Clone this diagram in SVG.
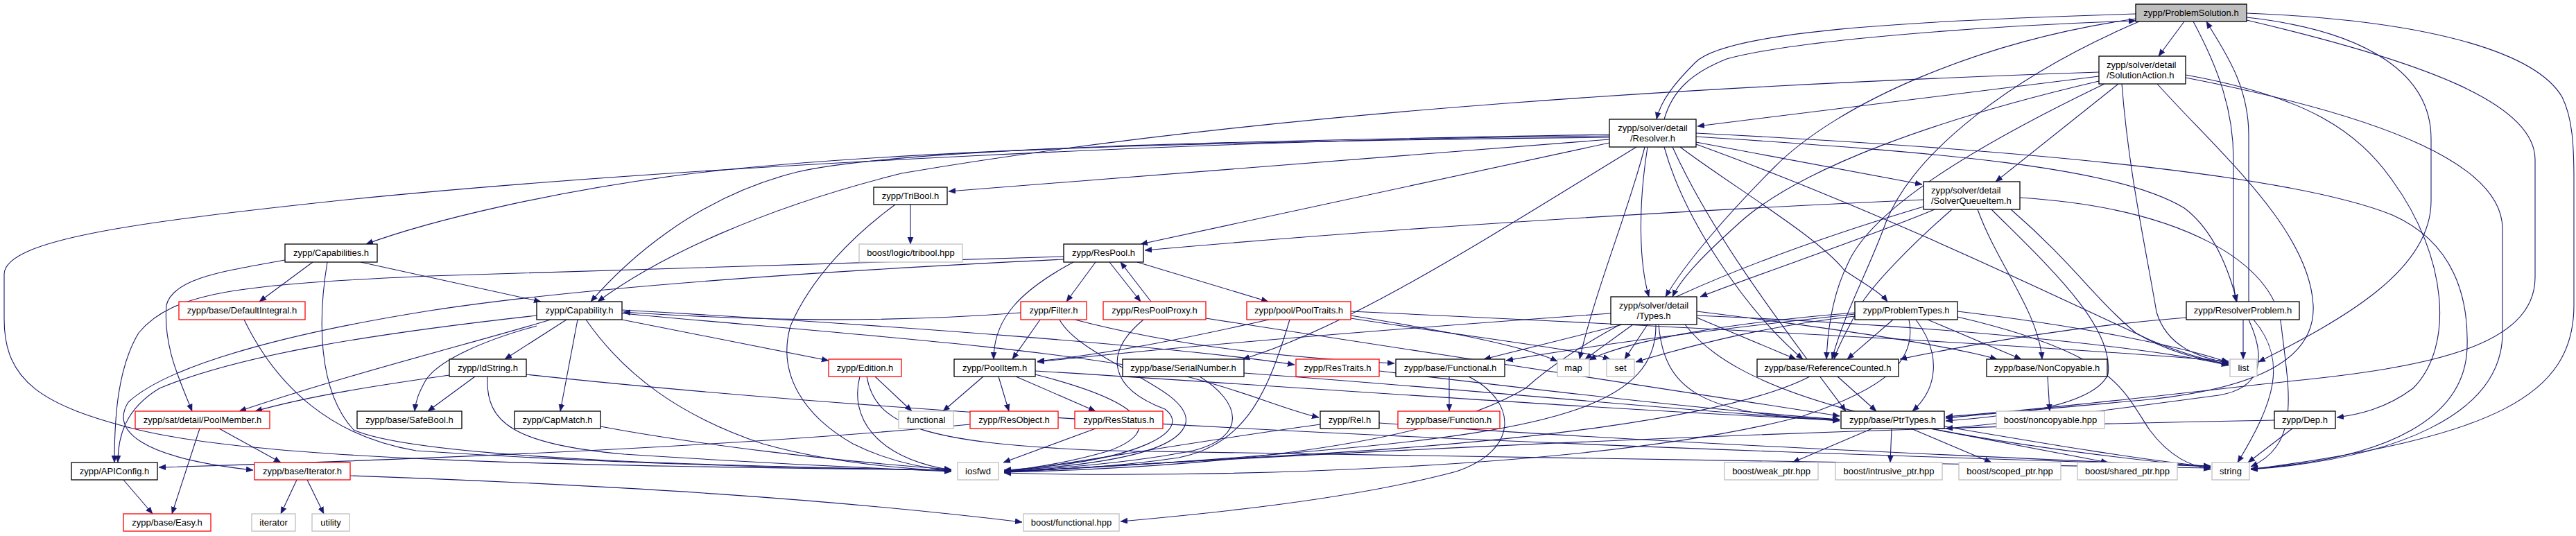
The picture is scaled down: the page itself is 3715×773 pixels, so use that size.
<svg xmlns="http://www.w3.org/2000/svg" width="3715" height="773" viewBox="0 0 3715 773">
<style>
.e{fill:none;stroke:#191970;stroke-width:1.1;marker-end:url(#ah)}
.n rect{fill:#fff;stroke:#000;stroke-width:1.3}
.r rect{stroke:#f00}
.g rect{stroke:#bfbfbf}
.ps rect{fill:#bfbfbf}
text{font-family:"Liberation Sans",Arial,sans-serif;font-size:13px;fill:#000}
.c{text-anchor:middle}
</style>
<defs>
<marker id="ah" viewBox="0 0 10 10" refX="10" refY="5" markerWidth="10" markerHeight="10" markerUnits="userSpaceOnUse" orient="auto"><path d="M0,1 L10,5 L0,9 z" fill="#191970" stroke="#191970" stroke-width="0.5"/></marker>
</defs>
<rect width="3715" height="773" fill="#fff"/>
<g id="connectors">
<path class="e" d="M3150,31 L3113,81"/>
<path class="e" d="M3080,20 C2750,30 2490,45 2445,90 C2415,120 2395,145 2389,172"/>
<path class="e" d="M2400,172 C2412,130 2440,105 2490,85 C2600,55 2900,36 3080,30"/>
<path class="e" d="M3243,435 L3243,195 C3243,120 3205,70 3182,31"/>
<path class="e" d="M3163,31 C3200,100 3221,160 3221,230 L3221,400 C3221,415 3223,425 3225,435"/>
<path class="e" d="M3240,25 C3420,45 3506,110 3506,200 L3506,290 C3506,390 3380,460 3257,522"/>
<path class="e" d="M3240,19 C3520,30 3660,80 3695,140 C3710,170 3712,210 3712,260 L3712,440 C3712,570 3600,630 3246,677"/>
<path class="e" d="M3240,29 C3500,90 3656,150 3656,230 L3656,400 C3656,500 3500,530 3300,550 C3100,572 2950,590 2806,601"/>
<path class="e" d="M3080,27 C2850,60 2650,150 2560,240 C2490,310 2430,380 2402,428"/>
<path class="e" d="M3085,31 C2900,110 2760,220 2720,320 C2695,390 2660,450 2642,518"/>
<path class="e" d="M3027,110 L2448,182"/>
<path class="e" d="M3027,104 C2500,122 1840,158 1300,250 C1100,300 950,370 862,435"/>
<path class="e" d="M3055,121 L2878,262"/>
<path class="e" d="M3027,117 C2800,170 2600,240 2510,320 C2460,365 2425,400 2412,428"/>
<path class="e" d="M3035,121 C2850,210 2700,300 2665,380 C2645,420 2636,470 2634,518"/>
<path class="e" d="M3111,121 C3200,220 3330,330 3336,440 C3340,520 3250,560 3100,576 C2950,590 2850,598 2806,603"/>
<path class="e" d="M3060,121 C3070,250 3095,360 3110,450 C3125,500 3170,515 3214,524"/>
<path class="e" d="M3152,112 C3450,170 3609,240 3609,330 L3609,480 C3609,600 3450,662 3246,677"/>
<path class="e" d="M3152,108 C3330,140 3400,190 3450,260 C3530,370 3540,500 3480,560 C3440,590 3400,598 3370,602"/>
<path class="e" d="M2321,198 C1800,203 1300,215 1000,250 C800,275 620,318 528,352"/>
<path class="e" d="M2321,194 C1800,203 1300,213 1150,248 C1000,285 900,380 852,435"/>
<path class="e" d="M2321,201 L1368,276"/>
<path class="e" d="M2321,206 L1645,352"/>
<path class="e" d="M2446,205 L2772,266"/>
<path class="e" d="M2376,212 C2362,300 2364,380 2378,428"/>
<path class="e" d="M2423,212 C2500,270 2620,340 2660,390 C2690,410 2712,422 2722,435"/>
<path class="e" d="M2446,197 C2800,220 3050,240 3150,300 C3190,330 3212,380 3226,435"/>
<path class="e" d="M2446,208 C2700,300 2950,420 3100,490 C3160,515 3190,520 3214,526"/>
<path class="e" d="M2446,192 C2900,215 3300,250 3450,310 C3540,350 3560,430 3558,500 C3556,600 3450,662 3246,676"/>
<path class="e" d="M2372,212 C2350,300 2300,420 2278,518"/>
<path class="e" d="M2400,212 C2430,320 2520,450 2600,518"/>
<path class="e" d="M2412,212 C2470,340 2570,470 2662,593"/>
<path class="e" d="M2360,212 C2150,340 1950,470 1792,518"/>
<path class="e" d="M2321,196 C1800,200 1000,238 500,288 C200,320 8,345 6,395 L6,460 C6,550 60,585 200,620 C400,668 900,672 1372,678"/>
<path class="e" d="M2790,302 C2700,340 2550,390 2452,428"/>
<path class="e" d="M2774,288 C2400,305 2000,330 1651,361"/>
<path class="e" d="M2815,302 C2760,350 2700,410 2680,445 C2665,475 2650,500 2645,518"/>
<path class="e" d="M2852,302 C2880,380 2940,450 2945,518"/>
<path class="e" d="M2872,302 C2950,380 3050,470 3040,540 C3020,585 2900,600 2806,607"/>
<path class="e" d="M2900,302 C2990,380 3020,430 3080,480 C3130,510 3180,520 3214,525"/>
<path class="e" d="M2913,285 C3150,300 3280,380 3290,470 C3300,560 3320,640 3246,673"/>
<path class="e" d="M2774,298 C2500,380 2300,470 2200,560 C2050,650 1700,675 1448,681"/>
<path class="e" d="M2323,452 C2000,475 1700,500 1496,522"/>
<path class="e" d="M2340,468 L2140,518"/>
<path class="e" d="M2355,468 L2286,518"/>
<path class="e" d="M2376,468 L2343,518"/>
<path class="e" d="M2447,449 C2600,468 2800,495 2880,518"/>
<path class="e" d="M2392,468 C2400,560 2450,600 2653,605"/>
<path class="e" d="M2447,455 C2800,470 3100,500 3214,527"/>
<path class="e" d="M2430,468 C2500,560 2700,625 3188,674"/>
<path class="e" d="M2388,468 C2390,580 2250,620 1900,650 C1700,668 1550,676 1448,680"/>
<path class="e" d="M2447,458 L2590,518"/>
<path class="e" d="M2730,461 L2664,518"/>
<path class="e" d="M2763,461 C2800,510 2795,560 2758,593"/>
<path class="e" d="M2780,461 L2915,518"/>
<path class="e" d="M2823,449 C3000,470 3150,500 3214,523"/>
<path class="e" d="M2823,457 C3050,510 3060,560 3100,620 C3130,660 3160,672 3188,677"/>
<path class="e" d="M2675,456 C2550,470 2450,495 2359,522"/>
<path class="e" d="M2675,451 C2500,465 2350,490 2292,519"/>
<path class="e" d="M2675,453 C2500,472 2300,497 2172,520"/>
<path class="e" d="M2753,461 C2765,520 2720,560 2600,600 C2300,680 1700,690 1448,682"/>
<path class="e" d="M3153,458 C3000,470 2850,495 2740,518"/>
<path class="e" d="M3243,461 C3270,520 3260,560 3200,570 C3050,590 2900,610 2806,618"/>
<path class="e" d="M3235,461 L3235,518"/>
<path class="e" d="M3250,461 C3300,520 3280,580 3227,667"/>
<path class="e" d="M1600,378 L1645,435"/>
<path class="e" d="M1660,435 L1616,378"/>
<path class="e" d="M1580,378 L1538,435"/>
<path class="e" d="M1548,378 C1470,420 1433,460 1433,518"/>
<path class="e" d="M1640,378 L1829,435"/>
<path class="e" d="M1534,370 C1200,380 800,392 620,398 C350,410 250,420 200,480 C170,530 165,600 165,667"/>
<path class="e" d="M1534,374 C1100,395 800,420 620,448 C450,475 250,520 185,580 C160,620 200,660 365,678"/>
<path class="e" d="M1500,461 L1460,518"/>
<path class="e" d="M1528,461 C1560,520 1720,560 1710,610 C1700,650 1600,670 1448,679"/>
<path class="e" d="M1550,461 C1700,500 1850,515 2011,524"/>
<path class="e" d="M1472,451 C1250,468 1050,460 899,450"/>
<path class="e" d="M1649,461 C1590,510 1600,560 1680,590 C1720,620 1650,665 1448,678"/>
<path class="e" d="M1739,459 C2000,500 2400,560 2653,600"/>
<path class="e" d="M1830,461 C1700,490 1600,510 1496,521"/>
<path class="e" d="M1948,455 C2100,480 2200,500 2246,521"/>
<path class="e" d="M1948,459 C2150,490 2280,505 2322,518"/>
<path class="e" d="M1948,449 C2400,470 2900,495 3214,521"/>
<path class="e" d="M1860,461 C1830,560 1800,640 1700,660 C1600,675 1500,678 1448,680"/>
<path class="e" d="M1418,543 L1360,593"/>
<path class="e" d="M1440,543 L1455,593"/>
<path class="e" d="M1465,543 L1580,593"/>
<path class="e" d="M1493,535 C1900,560 2300,590 2653,606"/>
<path class="e" d="M1493,540 C1650,580 1680,620 1600,650 C1540,668 1480,676 1448,680"/>
<path class="e" d="M1730,543 C1790,580 1800,630 1720,650 C1620,670 1500,677 1448,680"/>
<path class="e" d="M1794,538 C2100,560 2400,590 2653,607"/>
<path class="e" d="M1262,543 L1315,593"/>
<path class="e" d="M1240,543 C1225,600 1260,660 1372,678"/>
<path class="e" d="M1250,543 C1262,610 1320,640 1600,650 C2200,660 2800,668 3188,675"/>
<path class="e" d="M1399,612 C1100,640 700,660 229,674"/>
<path class="e" d="M1580,618 L1447,667"/>
<path class="e" d="M794,461 C700,490 500,540 345,593"/>
<path class="e" d="M817,461 L728,518"/>
<path class="e" d="M833,461 L808,593"/>
<path class="e" d="M774,470 C700,490 630,520 613,550 C605,565 600,575 598,593"/>
<path class="e" d="M774,455 C550,480 350,510 230,560 C180,590 170,630 170,667"/>
<path class="e" d="M897,461 L1195,520"/>
<path class="e" d="M897,452 C1200,480 1500,500 1700,540 C1800,565 1850,590 1902,602"/>
<path class="e" d="M897,447 C1300,470 1700,500 1867,526"/>
<path class="e" d="M845,461 C900,540 980,600 1100,640 C1200,668 1300,676 1372,679"/>
<path class="e" d="M685,543 L617,593"/>
<path class="e" d="M648,541 C550,555 450,570 368,593"/>
<path class="e" d="M703,543 C700,610 740,640 900,655 C1100,668 1250,675 1372,680"/>
<path class="e" d="M759,540 C1500,620 2500,650 3188,672"/>
<path class="e" d="M866,615 C1000,640 1200,665 1372,677"/>
<path class="e" d="M352,461 C400,560 480,630 600,650 C900,670 1200,676 1372,678"/>
<path class="e" d="M520,378 L780,435"/>
<path class="e" d="M451,378 L374,435"/>
<path class="e" d="M411,375 C330,390 250,400 240,440 C235,500 260,550 277,593"/>
<path class="e" d="M472,378 C460,450 455,560 510,620 C600,660 1000,672 1372,678"/>
<path class="e" d="M316,618 L405,667"/>
<path class="e" d="M288,618 L248,741"/>
<path class="e" d="M178,692 L220,741"/>
<path class="e" d="M428,692 L405,741"/>
<path class="e" d="M443,692 L467,741"/>
<path class="e" d="M505,686 C900,700 1200,720 1474,753"/>
<path class="e" d="M2090,543 L2090,593"/>
<path class="e" d="M2118,543 C2190,580 2190,650 2100,680 C1950,720 1750,740 1616,752"/>
<path class="e" d="M1313,295 L1313,352"/>
<path class="e" d="M1291,295 C1230,340 1170,400 1140,470 C1120,540 1160,600 1230,640 C1280,665 1330,675 1372,679"/>
<path class="e" d="M1904,612 C1700,640 1550,668 1448,681"/>
<path class="e" d="M1989,610 C2400,640 2900,660 3188,673"/>
<path class="e" d="M3280,606 C2500,620 1800,660 1448,681"/>
<path class="e" d="M3306,618 L3242,667"/>
<path class="e" d="M1989,535 C2200,560 2450,590 2653,605"/>
<path class="e" d="M2650,543 L2706,593"/>
<path class="e" d="M2610,543 C2500,600 2200,640 1800,660 C1600,672 1500,678 1448,681"/>
<path class="e" d="M2953,543 L2956,593"/>
<path class="e" d="M2700,618 L2585,667"/>
<path class="e" d="M2728,618 L2726,667"/>
<path class="e" d="M2756,618 L2872,667"/>
<path class="e" d="M2783,618 L3040,667"/>
<path class="e" d="M2804,615 C2950,640 3100,665 3188,673"/>
</g>
<g id="n-ProblemSolution" class="n ps"><rect x="3080" y="6" width="160" height="25"/><text class="c" x="3160" y="23">zypp/ProblemSolution.h</text></g>
<g id="n-SolutionAction" class="n"><rect x="3027" y="81" width="125" height="40"/><text x="3038" y="98">zypp/solver/detail</text><text x="3038" y="113">/SolutionAction.h</text></g>
<g id="n-Resolver" class="n"><rect x="2321" y="172" width="125" height="40"/><text class="c" x="2383.5" y="189">zypp/solver/detail</text><text class="c" x="2383.5" y="204">/Resolver.h</text></g>
<g id="n-SolverQueueItem" class="n"><rect x="2774" y="262" width="139" height="40"/><text x="2785" y="279">zypp/solver/detail</text><text x="2785" y="294">/SolverQueueItem.h</text></g>
<g id="n-Capabilities" class="n"><rect x="411" y="352" width="133" height="26"/><text class="c" x="477.5" y="369">zypp/Capabilities.h</text></g>
<g id="n-TriBool" class="n"><rect x="1260" y="270" width="106" height="25"/><text class="c" x="1313" y="287">zypp/TriBool.h</text></g>
<g id="n-tribool_hpp" class="n g"><rect x="1239" y="352" width="149" height="26"/><text class="c" x="1313.5" y="369">boost/logic/tribool.hpp</text></g>
<g id="n-ResPool" class="n"><rect x="1534" y="352" width="115" height="26"/><text class="c" x="1591.5" y="369">zypp/ResPool.h</text></g>
<g id="n-Types" class="n"><rect x="2323" y="428" width="124" height="40"/><text class="c" x="2385" y="445">zypp/solver/detail</text><text class="c" x="2385" y="460">/Types.h</text></g>
<g id="n-ProblemTypes" class="n"><rect x="2675" y="435" width="148" height="26"/><text class="c" x="2749" y="452">zypp/ProblemTypes.h</text></g>
<g id="n-ResolverProblem" class="n"><rect x="3153" y="435" width="163" height="26"/><text class="c" x="3234.5" y="452">zypp/ResolverProblem.h</text></g>
<g id="n-DefaultIntegral" class="n r"><rect x="258" y="435" width="182" height="26"/><text class="c" x="349" y="452">zypp/base/DefaultIntegral.h</text></g>
<g id="n-Capability" class="n"><rect x="774" y="435" width="123" height="26"/><text class="c" x="835.5" y="452">zypp/Capability.h</text></g>
<g id="n-Filter" class="n r"><rect x="1472" y="435" width="95" height="26"/><text class="c" x="1519.5" y="452">zypp/Filter.h</text></g>
<g id="n-ResPoolProxy" class="n r"><rect x="1591" y="435" width="148" height="26"/><text class="c" x="1665" y="452">zypp/ResPoolProxy.h</text></g>
<g id="n-PoolTraits" class="n r"><rect x="1798" y="435" width="150" height="26"/><text class="c" x="1873" y="452">zypp/pool/PoolTraits.h</text></g>
<g id="n-IdString" class="n"><rect x="648" y="518" width="111" height="25"/><text class="c" x="703.5" y="535">zypp/IdString.h</text></g>
<g id="n-Edition" class="n r"><rect x="1195" y="518" width="105" height="25"/><text class="c" x="1247.5" y="535">zypp/Edition.h</text></g>
<g id="n-PoolItem" class="n"><rect x="1376" y="518" width="117" height="25"/><text class="c" x="1434.5" y="535">zypp/PoolItem.h</text></g>
<g id="n-SerialNumber" class="n"><rect x="1619" y="518" width="175" height="25"/><text class="c" x="1706.5" y="535">zypp/base/SerialNumber.h</text></g>
<g id="n-ResTraits" class="n r"><rect x="1869" y="518" width="120" height="25"/><text class="c" x="1929" y="535">zypp/ResTraits.h</text></g>
<g id="n-Functional" class="n"><rect x="2013" y="518" width="157" height="25"/><text class="c" x="2091.5" y="535">zypp/base/Functional.h</text></g>
<g id="n-map" class="n g"><rect x="2246" y="518" width="46" height="25"/><text class="c" x="2269" y="535">map</text></g>
<g id="n-set" class="n g"><rect x="2317" y="518" width="40" height="25"/><text class="c" x="2337" y="535">set</text></g>
<g id="n-ReferenceCounted" class="n"><rect x="2534" y="518" width="204" height="25"/><text class="c" x="2636" y="535">zypp/base/ReferenceCounted.h</text></g>
<g id="n-NonCopyable" class="n"><rect x="2865" y="518" width="174" height="25"/><text class="c" x="2952" y="535">zypp/base/NonCopyable.h</text></g>
<g id="n-list" class="n g"><rect x="3216" y="518" width="39" height="25"/><text class="c" x="3235.5" y="535">list</text></g>
<g id="n-PoolMember" class="n r"><rect x="195" y="593" width="194" height="25"/><text class="c" x="292" y="610">zypp/sat/detail/PoolMember.h</text></g>
<g id="n-SafeBool" class="n"><rect x="515" y="593" width="151" height="25"/><text class="c" x="590.5" y="610">zypp/base/SafeBool.h</text></g>
<g id="n-CapMatch" class="n"><rect x="742" y="593" width="124" height="25"/><text class="c" x="804" y="610">zypp/CapMatch.h</text></g>
<g id="n-functional" class="n g"><rect x="1296" y="593" width="79" height="25"/><text class="c" x="1335.5" y="610">functional</text></g>
<g id="n-ResObject" class="n r"><rect x="1399" y="593" width="127" height="25"/><text class="c" x="1462.5" y="610">zypp/ResObject.h</text></g>
<g id="n-ResStatus" class="n r"><rect x="1550" y="593" width="127" height="25"/><text class="c" x="1613.5" y="610">zypp/ResStatus.h</text></g>
<g id="n-Rel" class="n"><rect x="1904" y="593" width="85" height="25"/><text class="c" x="1946.5" y="610">zypp/Rel.h</text></g>
<g id="n-Function" class="n r"><rect x="2016" y="593" width="147" height="25"/><text class="c" x="2089.5" y="610">zypp/base/Function.h</text></g>
<g id="n-PtrTypes" class="n"><rect x="2655" y="593" width="149" height="25"/><text class="c" x="2729.5" y="610">zypp/base/PtrTypes.h</text></g>
<g id="n-noncopyable_hpp" class="n g"><rect x="2879" y="593" width="156" height="25"/><text class="c" x="2957" y="610">boost/noncopyable.hpp</text></g>
<g id="n-Dep" class="n"><rect x="3280" y="593" width="88" height="25"/><text class="c" x="3324" y="610">zypp/Dep.h</text></g>
<g id="n-APIConfig" class="n"><rect x="103" y="667" width="124" height="25"/><text class="c" x="165" y="684">zypp/APIConfig.h</text></g>
<g id="n-Iterator" class="n r"><rect x="367" y="667" width="138" height="25"/><text class="c" x="436" y="684">zypp/base/Iterator.h</text></g>
<g id="n-iosfwd" class="n g"><rect x="1381" y="667" width="59" height="25"/><text class="c" x="1410.5" y="684">iosfwd</text></g>
<g id="n-weak_ptr" class="n g"><rect x="2487" y="667" width="135" height="25"/><text class="c" x="2554.5" y="684">boost/weak_ptr.hpp</text></g>
<g id="n-intrusive_ptr" class="n g"><rect x="2647" y="667" width="154" height="25"/><text class="c" x="2724" y="684">boost/intrusive_ptr.hpp</text></g>
<g id="n-scoped_ptr" class="n g"><rect x="2825" y="667" width="147" height="25"/><text class="c" x="2898.5" y="684">boost/scoped_ptr.hpp</text></g>
<g id="n-shared_ptr" class="n g"><rect x="2996" y="667" width="144" height="25"/><text class="c" x="3068" y="684">boost/shared_ptr.hpp</text></g>
<g id="n-string" class="n g"><rect x="3190" y="667" width="54" height="25"/><text class="c" x="3217" y="684">string</text></g>
<g id="n-Easy" class="n r"><rect x="178" y="741" width="126" height="25"/><text class="c" x="241" y="758">zypp/base/Easy.h</text></g>
<g id="n-iterator" class="n g"><rect x="363" y="741" width="63" height="25"/><text class="c" x="394.5" y="758">iterator</text></g>
<g id="n-utility" class="n g"><rect x="450" y="741" width="54" height="25"/><text class="c" x="477" y="758">utility</text></g>
<g id="n-functional_hpp" class="n g"><rect x="1476" y="741" width="138" height="25"/><text class="c" x="1545" y="758">boost/functional.hpp</text></g>
</svg>
